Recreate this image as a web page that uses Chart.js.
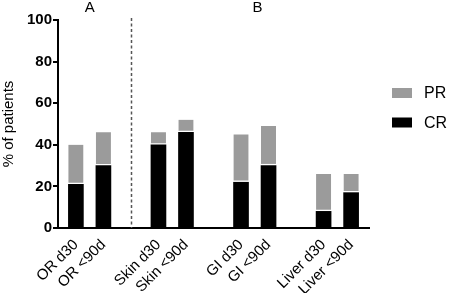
<!DOCTYPE html>
<html>
<head>
<meta charset="utf-8">
<script src="https://cdn.jsdelivr.net/npm/chart.js@4"></script>
<style>
  html, body { margin: 0; padding: 0; background: #fff; }
  #wrap { width: 450px; height: 293px; }
</style>
</head>
<body>
<div id="wrap"><canvas id="chart" width="450" height="293"></canvas></div>
<script>
// categories ('' = empty slot between groups)
const categories = ['OR d30', 'OR <90d', '', 'Skin d30', 'Skin <90d', '', 'GI d30', 'GI <90d', '', 'Liver d30', 'Liver <90d'];
const crValues = [21, 30, null, 40, 46, null, 22, 30, null, 8, 17];
const prValues = [19, 16, null, 6, 6, null, 23, 19, null, 18, 9];
const yTicks = [0, 20, 40, 60, 80, 100];
const panelLabels = [{ text: 'A', at: 0.5 }, { text: 'B', at: 6.6 }];
const dividerAt = 2;

const FONT = 'Liberation Sans, Arial, Helvetica, sans-serif';

function toPoints(values) {
    return values.map((v, i) => ({ x: i, y: v })).filter(p => p.y !== null);
}

// dashed divider + panel letters + legend
const extras = {
    id: 'extras',
    afterDraw(chart) {
        const ctx = chart.ctx;
        const x = chart.scales.x;
        const area = chart.chartArea;
        ctx.save();
        ctx.strokeStyle = '#555';
        ctx.lineWidth = 1.5;
        ctx.setLineDash([3, 2.5]);
        const dx = Math.round(x.getPixelForValue(dividerAt)) + 0.5;
        ctx.beginPath();
        ctx.moveTo(dx, area.top - 2);
        ctx.lineTo(dx, area.bottom);
        ctx.stroke();
        ctx.setLineDash([]);

        ctx.fillStyle = '#000';
        ctx.font = '15px ' + FONT;
        ctx.textAlign = 'center';
        ctx.textBaseline = 'middle';
        panelLabels.forEach(p => ctx.fillText(p.text, x.getPixelForValue(p.at), 8));

        // legend, PR on top
        const items = chart.data.datasets.slice().reverse();
        ctx.textAlign = 'left';
        ctx.font = '16px ' + FONT;
        items.forEach((ds, i) => {
            const cy = 93 + i * 29.5;
            ctx.fillStyle = ds.backgroundColor;
            ctx.fillRect(392, cy - 5, 20, 10);
            ctx.fillStyle = '#000';
            ctx.fillText(ds.label, 424, cy + 1);
        });
        ctx.restore();
    }
};

new Chart(document.getElementById('chart'), {
    type: 'bar',
    data: {
        datasets: [{
            label: 'CR',
            data: toPoints(crValues),
            backgroundColor: '#000000',
            borderWidth: 0,
            barThickness: 15
        }, {
            label: 'PR',
            data: toPoints(prValues),
            backgroundColor: '#9b9b9b',
            borderColor: '#ffffff',
            borderWidth: { bottom: 2, top: 0, left: 0, right: 0 },
            borderSkipped: false,
            barThickness: 15
        }]
    },
    options: {
        responsive: false,
        animation: false,
        layout: { padding: { top: 20, right: 81, left: 0, bottom: 0 } },
        plugins: {
            legend: { display: false },
            tooltip: { enabled: false }
        },
        scales: {
            x: {
                type: 'linear',
                stacked: true,
                offset: false,
                min: -0.65,
                max: 10.65,
                afterBuildTicks: s => {
                    s.ticks = categories.map((c, i) => ({ value: i })).filter(t => categories[t.value] !== '');
                },
                afterFit: s => { s.height = 65; },
                grid: { display: false },
                border: { display: true, color: '#000', width: 2 },
                ticks: {
                    autoSkip: false,
                    minRotation: 45,
                    maxRotation: 45,
                    padding: 0,
                    color: '#000',
                    font: { family: FONT, size: 15 },
                    callback: v => categories[v]
                }
            },
            y: {
                stacked: true,
                min: 0,
                max: 100,
                afterBuildTicks: s => { s.ticks = yTicks.map(v => ({ value: v })); },
                afterFit: s => { s.width = 58; },
                grid: { drawOnChartArea: false, tickLength: 5, color: '#000', lineWidth: 2 },
                border: { display: true, color: '#000', width: 2 },
                ticks: {
                    padding: 1,
                    color: '#000',
                    font: { family: FONT, size: 15, weight: 'bold' }
                },
                title: {
                    display: true,
                    text: '% of patients',
                    color: '#000',
                    padding: 0,
                    font: { family: FONT, size: 15 }
                }
            }
        }
    },
    plugins: [extras]
});
</script>
</body>
</html>
